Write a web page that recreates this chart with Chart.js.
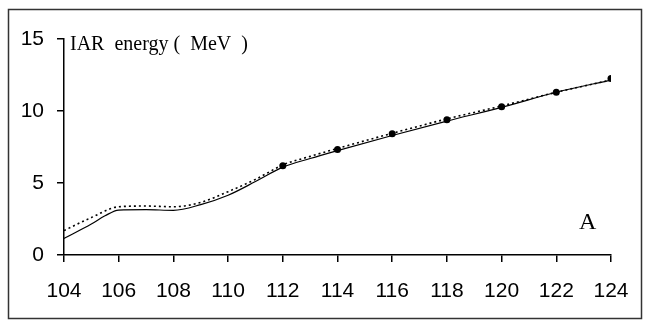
<!DOCTYPE html>
<html>
<head>
<meta charset="utf-8">
<script src="https://cdn.jsdelivr.net/npm/chart.js@4/dist/chart.umd.min.js"></script>
<style>
html,body{margin:0;padding:0;background:#fff;}
#wrap{width:651px;height:327px;position:relative;}
</style>
</head>
<body>
<div id="wrap"><canvas id="c" width="651" height="327"></canvas></div>
<script>
// Data
const solidX = [104,105,105.5,106,107,108,109,110,111,112,113,114,116,118,120,122,124];
const solidY = [1.15,2.15,2.72,3.12,3.15,3.1,3.5,4.15,5.1,6.1,6.7,7.25,8.3,9.3,10.25,11.3,12.15];
const dottedX = [104,105,106,107,108,109,110,111,112,113,114,116,118,120,122,124];
const dottedY = [1.7,2.6,3.35,3.4,3.35,3.65,4.4,5.25,6.25,6.85,7.4,8.45,9.45,10.35,11.3,12.15];
const pointX = [112,114,116,118,120,122,124];
const pointY = [6.2,7.33,8.42,9.4,10.3,11.3,12.25];
const yTitle = 'IAR  energy (  MeV  )';
const panelLabel = 'A';

const toXY = (xs, ys) => xs.map((x, i) => ({x: x, y: ys[i]}));

const decor = {
  id: 'decor',
  beforeDraw(chart) {
    const ctx = chart.ctx;
    ctx.save();
    ctx.fillStyle = '#fff';
    ctx.fillRect(0, 0, chart.width, chart.height);
    ctx.strokeStyle = '#333';
    ctx.lineWidth = 1.5;
    ctx.strokeRect(8.5, 9.5, 633, 309);
    ctx.restore();
  },
  afterDraw(chart) {
    const ctx = chart.ctx;
    const xs = chart.scales.x, ys = chart.scales.y;
    ctx.save();
    ctx.fillStyle = '#000';
    ctx.textBaseline = 'alphabetic';
    ctx.font = '20px "Liberation Serif", "Times New Roman", serif';
    ctx.textAlign = 'left';
    ctx.fillText(yTitle, xs.left + 6, ys.getPixelForValue(15) + 11);
    ctx.font = '24px "Liberation Serif", "Times New Roman", serif';
    ctx.textAlign = 'center';
    ctx.fillText(panelLabel, xs.getPixelForValue(123.15), ys.getPixelForValue(1.8));
    ctx.restore();
  }
};

new Chart(document.getElementById('c'), {
  type: 'scatter',
  data: {
    datasets: [
      {
        data: toXY(solidX, solidY),
        showLine: true,
        borderColor: '#000',
        borderWidth: 1.2,
        pointRadius: 0,
        cubicInterpolationMode: 'monotone',
        fill: false
      },
      {
        data: toXY(dottedX, dottedY),
        showLine: true,
        borderColor: '#000',
        borderWidth: 1.6,
        borderDash: [2, 3],
        pointRadius: 0,
        cubicInterpolationMode: 'monotone',
        fill: false
      },
      {
        data: toXY(pointX, pointY),
        showLine: false,
        pointRadius: 3.5,
        pointBackgroundColor: '#000',
        pointBorderColor: '#000',
        pointBorderWidth: 0
      }
    ]
  },
  options: {
    responsive: false,
    animation: false,
    devicePixelRatio: 1,
    layout: {padding: {left: 8, right: 40, top: 39, bottom: 8}},
    plugins: {legend: {display: false}, tooltip: {enabled: false}},
    scales: {
      x: {
        type: 'linear',
        min: 104, max: 124,
        afterFit(s) { s.height = 64; },
        border: {display: true, color: '#000', width: 1.5},
        grid: {drawOnChartArea: false, drawTicks: true, tickLength: 7, color: '#000', lineWidth: 1.5},
        ticks: {stepSize: 2, color: '#000', padding: 17, maxRotation: 0,
                font: {family: '"Liberation Sans", Arial, sans-serif', size: 21}}
      },
      y: {
        min: 0, max: 15,
        afterFit(s) { s.width = 56; },
        border: {display: true, color: '#000', width: 1.5},
        grid: {drawOnChartArea: false, drawTicks: true, tickLength: 7, color: '#000', lineWidth: 1.5},
        ticks: {stepSize: 5, color: '#000', padding: 13,
                font: {family: '"Liberation Sans", Arial, sans-serif', size: 21}}
      }
    }
  },
  plugins: [decor]
});
</script>
</body>
</html>
